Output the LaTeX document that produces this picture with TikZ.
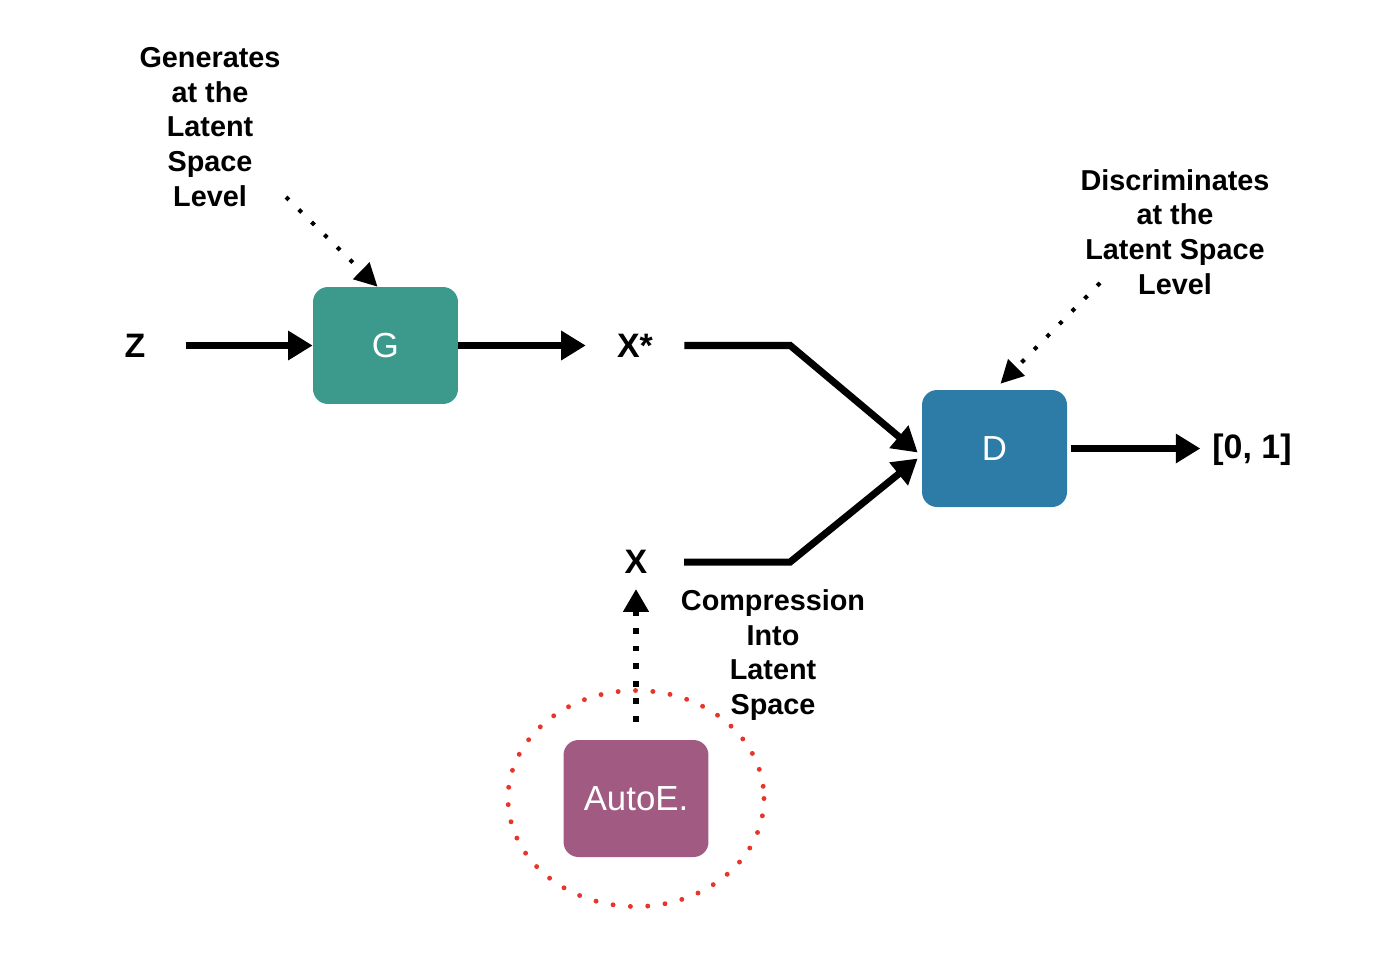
\documentclass[tikz,border=0pt]{standalone}
\usepackage{fontspec}
\setmainfont{Liberation Sans}
\usetikzlibrary{arrows.meta}
\definecolor{gteal}{HTML}{3C9A8C}
\definecolor{dblue}{HTML}{2D7CA8}
\definecolor{amauve}{HTML}{A15A81}
\definecolor{dotred}{HTML}{E8352B}
\tikzset{
  box/.style={rounded corners=0.3cm, minimum width=2.9cm, minimum height=2.34cm, inner sep=0pt,
    text=white, font=\fontsize{19.8pt}{22pt}\selectfont},
  lbl/.style={inner sep=0pt, font=\bfseries\fontsize{19.3pt}{22pt}\selectfont},
  note/.style={inner sep=0pt, align=center, font=\bfseries\fontsize{16.4pt}{19.8pt}\selectfont},
  arr/.style={line width=4pt, -{Triangle[length=14pt,width=16pt]}},
  dotarr/.style={line width=2.3pt, dash pattern=on 2.3pt off 7.9pt, -{Triangle[length=13pt,width=13pt]}},
  bigdotarr/.style={line width=3.2pt, dash pattern=on 3.2pt off 6.8pt, -{Triangle[length=13pt,width=14pt]}},
  redring/.style={draw=dotred, line width=2.8pt, line cap=round, dash pattern=on 0pt off 9.9pt},
}
\begin{document}
\begin{tikzpicture}[x=0.02cm, y=-0.02cm]
\useasboundingbox (0,0) rectangle (1381,954);
% boxes
\node[box, fill=gteal] (G) at (385.5,345.5) {G};
\node[box, fill=dblue] (D) at (994.5,448.5) {D};
\node[box, fill=amauve] (A) at (636,798.5) {AutoE.};
\draw[redring] (A.center) ellipse [x radius=128, y radius=108];
% labels
\node[lbl] (Z) at (135,345.5) {Z};
\node[lbl] (Xs) at (635,345.5) {X*};
\node[lbl] (X) at (636,562) {X};
\node[lbl] (out) at (1252,449.5) {[0, 1]};
% notes
\node[note] (gen) at (210,127) {Generates\\at the\\Latent\\Space\\Level};
\node[note] (disc) at (1175,232) {Discriminates\\at the\\Latent Space\\Level};
\node[note] (comp) at (773,655) {Compression\\Into\\Latent\\Space};
\coordinate (gs) at (286,197);
\coordinate (ds) at (1100,283);
% connectors
\draw[arr] ([xshift=0.8cm]Z.east) -- (G.west);
\draw[arr] (G.east) -- ([xshift=-0.62cm]Xs.west);
\draw[arr] ([xshift=0.62cm]Xs.east) -- ++(106,0) -- ([xshift=-0.08cm,yshift=-0.08cm]D.west);
\draw[arr] ([xshift=0.73cm]X.east) -- ++(106,0) -- ([xshift=-0.08cm,yshift=-0.2cm]D.west);
\draw[arr] ([xshift=0.08cm]D.east) -- ++(129,0);
\draw[dotarr] (gs) -- ([xshift=-0.16cm]G.north);
\draw[dotarr] (ds) -- ([xshift=0.12cm,yshift=0.12cm]D.north);
\draw[bigdotarr] ([yshift=0.36cm]A.north) -- ([yshift=-0.3cm]X.south);
\end{tikzpicture}
\end{document}
